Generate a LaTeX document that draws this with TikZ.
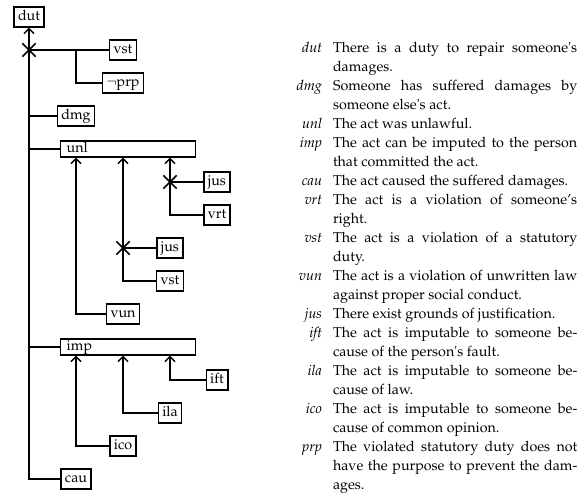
\documentclass[tikz,border=0pt]{standalone}
\usepackage[T1]{fontenc}
\usepackage{mathpazo}
\usetikzlibrary{shapes,arrows.meta}
\tikzstyle{bx}=[draw,inner xsep=2.8pt,inner ysep=2.5pt,text height=7pt,text depth=2pt]
\tikzstyle{wide}=[draw,anchor=west,inner xsep=4.2pt,inner ysep=1.2pt,text width=86.1pt,text height=7pt,text depth=1.8pt,align=left]
\tikzstyle{xm}=[cross out,draw,minimum size=8.4pt,inner sep=0pt]

\begin{document}
\begin{tikzpicture}[x=32.9pt,y=-23.1pt,line width=1pt,>={Straight Barb[length=3.5pt,width=7pt]}]
\useasboundingbox (-0.617,-1.515) rectangle (11.702,13.576);
% the tree
\node[bx] (dut) at (0,-1) {dut};
\node[xm] (x1) at (0,0) {};
\node[bx] (vst1) at (2,0) {vst};
\node[bx] (prp) at (2,1) {$\neg$prp};
\node[bx] (dmg) at (1,2) {dmg};
\node[wide] (unl) at (0.66,3) {unl};
\node[xm] (x2) at (3,4) {};
\node[bx] (jus1) at (4,4) {jus};
\node[bx] (vrt) at (4,5) {vrt};
\node[xm] (x3) at (2,6) {};
\node[bx] (jus2) at (3,6) {jus};
\node[bx] (vst2) at (3,7) {vst};
\node[bx] (vun) at (2,8) {vun};
\node[wide] (imp) at (0.66,9) {imp};
\node[bx] (ift) at (4,10) {ift};
\node[bx] (ila) at (3,11) {ila};
\node[bx] (ico) at (2,12) {ico};
\node[bx] (cau) at (1,13) {cau};
\draw[->] (cau) -| (dut);
\draw (x1.center) -- (vst1);
\draw (prp) -| (vst1 -| 1,0);
\draw (dmg) -- (dmg -| dut);
\draw (unl) -- (unl -| dut);
\draw (imp) -- (imp -| dut);
\draw[->] (vrt) -| (unl.south -| 3,0);
\draw (x2.center) -- (jus1);
\draw[->] (vst2) -| (unl.south -| 2,0);
\draw (x3.center) -- (jus2);
\draw[->] (vun) -| (unl.south -| 1,0);
\draw[->] (ift) -| (imp.south -| 3,0);
\draw[->] (ila) -| (imp.south -| 2,0);
\draw[->] (ico) -| (imp.south -| 1,0);
% the legend
\node[anchor=north east,inner sep=0pt,font=\fontsize{10}{13.3}\selectfont] (gl) at (11.681,-0.35) {%
\begin{tabular}{@{}r@{\hspace{7.7pt}}p{171pt}@{}}
\textit{dut} & There is a duty to repair someone\textquotesingle s damages.\\
\textit{dmg} & Someone has suffered damages by someone else\textquotesingle s act.\\
\textit{unl} & The act was unlawful.\\
\textit{imp} & The act can be imputed to the person that committed the act.\\
\textit{cau} & The act caused the suffered damages.\\
\textit{vrt} & The act is a violation of someone's right.\\
\textit{vst} & The act is a violation of a statutory duty.\\
\textit{vun} & The act is a violation of unwritten law against proper social conduct.\\
\textit{jus} & There exist grounds of justification.\\
\textit{ift} & The act is imputable to someone because of the person\textquotesingle s fault.\\
\textit{ila} & The act is imputable to someone because of law.\\
\textit{ico} & The act is imputable to someone because of common opinion.\\
\textit{prp} & The violated statutory duty does not have the purpose to prevent the damages.\\
\end{tabular}};
\end{tikzpicture}
\end{document}
